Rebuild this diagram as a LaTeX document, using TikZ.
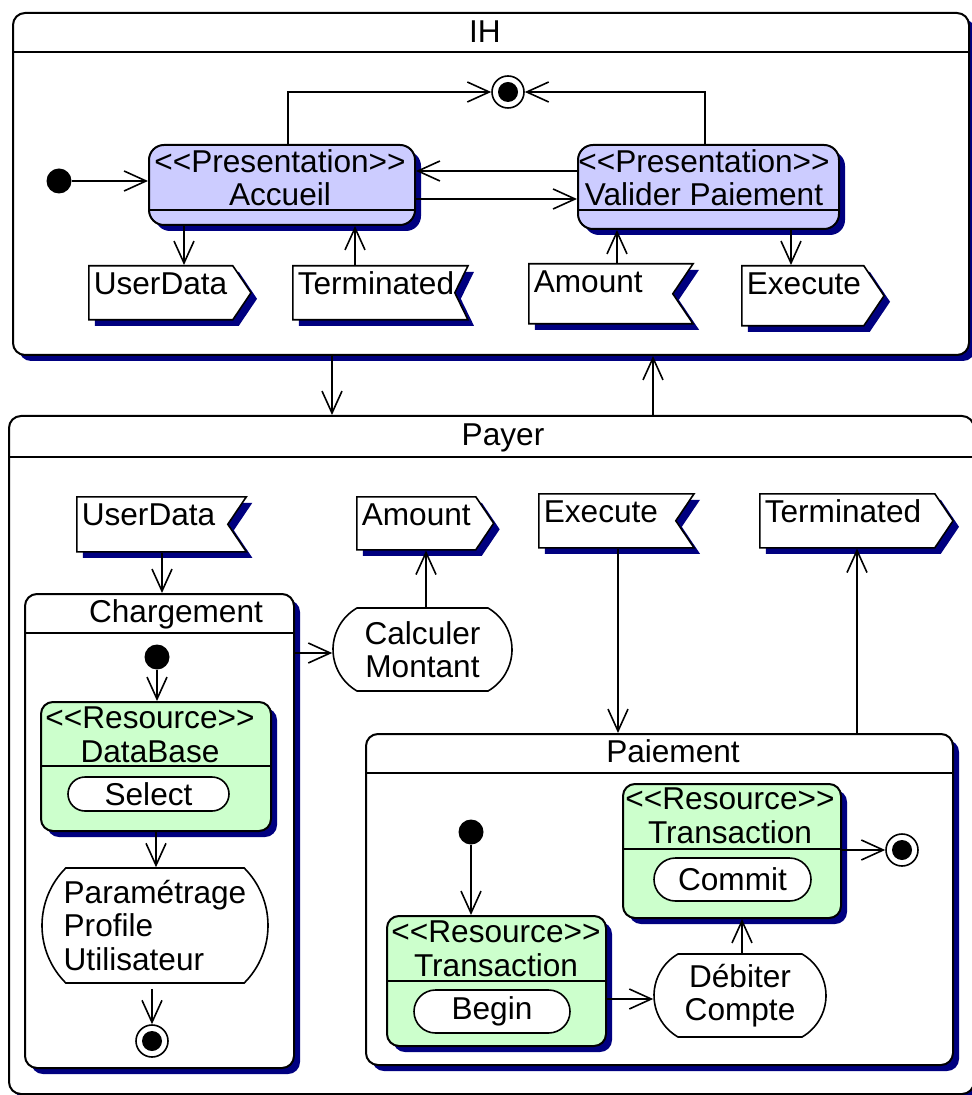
\documentclass[tikz,border=0pt]{standalone}
\usepackage{fontspec}
\setmainfont{Liberation Sans}
\usetikzlibrary{arrows.meta,shapes.misc,shapes.symbols,shadows}
\definecolor{navy}{RGB}{0,0,128}
\definecolor{lavender}{RGB}{204,204,255}
\definecolor{mint}{RGB}{204,255,204}
\newcommand{\stereotype}[1]{<\kern0pt<#1>\kern0pt>}

\begin{document}
\begin{tikzpicture}[
    x=0.5pt, y=-0.5pt,
    font=\fontsize{15.8}{16.6}\selectfont,
    navyshadow/.style={general shadow={fill=navy, shadow xshift=3pt, shadow yshift=-3pt}},
    statebox/.style={rectangle, draw, line width=1pt, fill=white, rounded corners=6pt, inner sep=0pt, anchor=north west},
    presentation/.style={statebox, fill=lavender, rounded corners=7.5pt, navyshadow},
    resource/.style={statebox, fill=mint, navyshadow},
    activity/.style={rounded rectangle, draw, line width=0.8pt, fill=white, inner sep=0pt, align=center},
    sendsig/.style={signal, signal to=east, signal pointer angle=112, draw, line width=0.8pt, fill=white, navyshadow, inner xsep=2.5pt, inner ysep=0pt, text height=14.5pt, text depth=12.5pt, align=left, anchor=north west},
    recvsig/.style={sendsig, signal to=nowhere, signal from=east},
    startdot/.style={circle, fill=black, inner sep=0pt, minimum size=12.5pt},
    enddot/.style={circle, draw, line width=0.8pt, fill=white, inner sep=0pt, minimum size=16pt, path picture={\fill[black] (path picture bounding box.center) circle (5pt);}},
    divider/.style={line width=0.8pt},
    flow/.style={line width=0.8pt, -{Straight Barb[length=11pt, width=10pt]}}
]
    \useasboundingbox (0,0) rectangle (971,1095);

    % IH
    \node[statebox, navyshadow, minimum width=478pt, minimum height=171pt] (ih) at (12,12) {};
    \draw[divider] (ih.west |- 0,52) -- (ih.east |- 0,52);
    \node[anchor=base] (ihlabel) at (485,43) {IH};
    \node[startdot] (ihstart) at (59,181) {};
    \node[enddot] (ihend) at (508,92) {};

    \node[presentation, minimum width=133pt, minimum height=40pt] (accueil) at (148,144) {};
    \draw[divider] (accueil.west |- 0,210) -- (accueil.east |- 0,210);
    \node[anchor=base, align=center] (accueillabel) at (280,206) {\stereotype{Presentation}\\Accueil};

    \node[presentation, minimum width=130.5pt, minimum height=42pt] (valider) at (577,144) {};
    \draw[divider] (valider.west |- 0,210) -- (valider.east |- 0,210);
    \node[anchor=base, align=center] (validerlabel) at (704,206) {\stereotype{Presentation}\\Valider Paiement};

    \node[sendsig, text width=67pt] (ihuserdata) at (88,265) {UserData};
    \node[recvsig, text width=76pt, signal pointer angle=128] (ihterminated) at (292,265) {Terminated};
    \node[recvsig, text width=67pt, text depth=15.5pt] (ihamount) at (528,263) {Amount};
    \node[sendsig, text width=56pt, text depth=15.5pt] (ihexecute) at (741,265) {Execute};

    \draw[flow] (ihstart) -- (accueil.west |- ihstart);
    \draw[flow] (accueil.north -| 288,0) |- (ihend);
    \draw[flow] (valider.north -| 705,0) |- (ihend);
    \draw[flow] (valider.west |- 0,171) -- (accueil.east |- 0,171);
    \draw[flow] (accueil.east |- 0,199) -- (valider.west |- 0,199);
    \draw[flow] (accueil.south -| 184,0) -- (ihuserdata.north -| 184,0);
    \draw[flow] (ihterminated.north -| 355,0) -- (accueil.south -| 355,0);
    \draw[flow] (ihamount.north -| 617,0) -- (valider.south -| 617,0);
    \draw[flow] (valider.south -| 791,0) -- (ihexecute.north -| 791,0);

    % Payer
    \node[statebox, navyshadow, minimum width=482.5pt, minimum height=339pt] (payer) at (8,415) {};
    \draw[divider] (payer.west |- 0,457) -- (payer.east |- 0,457);
    \node[anchor=base] (payerlabel) at (503,445) {Payer};

    \draw[flow] (ih.south -| 332,0) -- (payer.north -| 332,0);
    \draw[flow] (payer.north -| 653,0) -- (ih.south -| 653,0);

    \node[recvsig, text width=70.5pt, text depth=13pt] (puserdata) at (76,496) {UserData};
    \node[sendsig, text width=54.5pt, text depth=12pt] (pamount) at (356,496) {Amount};
    \node[recvsig, text width=63.5pt] (pexecute) at (538,493) {Execute};
    \node[sendsig, text width=82.5pt] (pterminated) at (759,493) {Terminated};

    % Chargement
    \node[statebox, navyshadow, minimum width=134.5pt, minimum height=237pt] (chargement) at (24,593) {};
    \draw[divider] (chargement.west |- 0,633) -- (chargement.east |- 0,633);
    \node[anchor=base] (chargementlabel) at (176,622) {Chargement};
    \node[startdot] (cstart) at (157,657) {};
    \node[resource, minimum width=115pt, minimum height=64.5pt] (database) at (40,701) {};
    \draw[divider] (database.west |- 0,766) -- (database.east |- 0,766);
    \node[anchor=base, align=center] (databaselabel) at (150,762) {\stereotype{Resource}\\DataBase};
    \node[activity, minimum width=80.5pt, minimum height=17pt] (select) at (148.5,794) {Select};
    \node[activity, rounded rectangle arc length=90, minimum width=113pt, minimum height=57.5pt, align=left] (param) at (155,925.5) {Paramétrage\\Profile\\Utilisateur};
    \node[enddot] (cend) at (152,1041) {};

    \draw[flow] (puserdata.south -| 162,0) -- (chargement.north -| 162,0);
    \draw[flow] (cstart) -- (database.north -| cstart);
    \draw[flow] (database.south -| 156,0) -- (param.north -| 156,0);
    \draw[flow, shorten <=2.5pt] (param.south -| cend) -- (cend);

    \node[activity, rounded rectangle arc length=120, minimum width=89.5pt, minimum height=41.5pt] (calculer) at (422.5,649.5) {Calculer\\Montant};
    \draw[flow] (chargement.east |- 0,653) -- (calculer.west |- 0,653);
    \draw[flow] (calculer.north -| 426,0) -- (pamount.south -| 426,0);

    % Paiement
    \node[statebox, navyshadow, minimum width=293.5pt, minimum height=165.5pt] (paiement) at (365,733) {};
    \draw[divider] (paiement.west |- 0,773) -- (paiement.east |- 0,773);
    \node[anchor=base] (paiementlabel) at (673,762) {Paiement};
    \node[startdot] (pstart) at (471,832) {};
    \node[resource, minimum width=109.5pt, minimum height=65pt] (tbegin) at (386,915) {};
    \draw[divider] (tbegin.west |- 0,981) -- (tbegin.east |- 0,981);
    \node[anchor=base, align=center] (tbeginlabel) at (496,976) {\stereotype{Resource}\\Transaction};
    \node[activity, minimum width=78pt, minimum height=21.5pt] (beginact) at (492,1011.5) {Begin};
    \node[activity, rounded rectangle arc length=120, minimum width=86pt, minimum height=41.5pt] (debiter) at (740,995.5) {Débiter\\Compte};
    \node[resource, minimum width=109pt, minimum height=67pt] (tcommit) at (622,783) {};
    \draw[divider] (tcommit.west |- 0,849) -- (tcommit.east |- 0,849);
    \node[anchor=base, align=center] (tcommitlabel) at (730,843) {\stereotype{Resource}\\Transaction};
    \node[activity, minimum width=78.5pt, minimum height=21.5pt] (commitact) at (732.5,879.5) {Commit};
    \node[enddot] (pend) at (902,850) {};

    \draw[flow] (pexecute.south -| 618,0) -- (paiement.north -| 618,0);
    \draw[flow] (paiement.north -| 857,0) -- (pterminated.south -| 857,0);
    \draw[flow] (pstart) -- (tbegin.north -| pstart);
    \draw[flow] (tbegin.east |- 0,999) -- (debiter.west |- 0,999);
    \draw[flow] (debiter.north -| 742,0) -- (tcommit.south -| 742,0);
    \draw[flow] (tcommit.east |- pend) -- (pend);
\end{tikzpicture}
\end{document}
